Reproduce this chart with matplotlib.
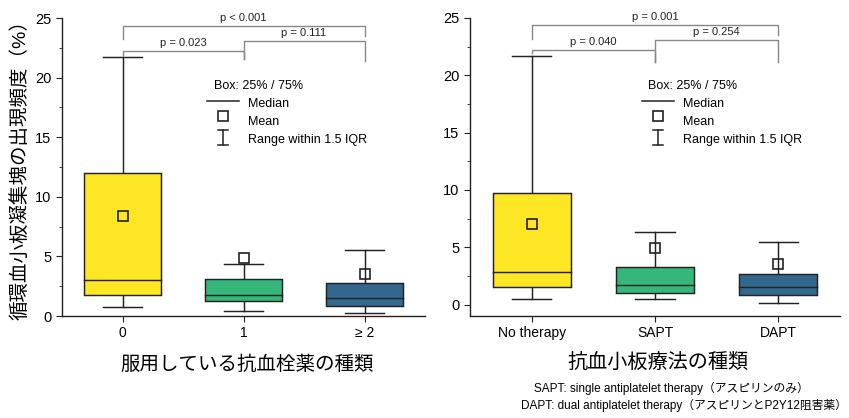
import matplotlib
matplotlib.use("Agg")
import matplotlib.pyplot as plt
from matplotlib.ticker import MultipleLocator

plt.rcParams['font.family'] = ['Liberation Sans', 'Noto Sans CJK JP', 'DejaVu Sans']

# ---- data ----
left_cats = ['0', '1', '≥ 2']
left_low = [0.75, 0.42, 0.22]
left_q1 = [1.72, 1.28, 0.85]
left_med = [3.0, 1.72, 1.53]
left_q3 = [12.0, 3.07, 2.75]
left_high = [21.7, 4.4, 5.55]
left_mean = [8.4, 4.9, 3.55]

right_cats = ['No therapy', 'SAPT', 'DAPT']
right_low = [0.5, 0.44, 0.17]
right_q1 = [1.54, 1.02, 0.82]
right_med = [2.8, 1.69, 1.54]
right_q3 = [9.7, 3.26, 2.68]
right_high = [21.7, 6.35, 5.42]
right_mean = [7.0, 4.95, 3.5]

colors = ['#FDE725', '#35B779', '#31688E']

# brackets: (i, j, top, left_drop, right_drop, label)
left_brackets = [(0, 2, 24.35, 23.2, 23.5, 'p < 0.001'),
                 (0, 1, 22.25, 21.9, 21.6, 'p = 0.023'),
                 (1, 2, 23.07, 21.6, 21.4, 'p = 0.111')]
right_brackets = [(0, 2, 24.36, 23.16, 23.5, 'p = 0.001'),
                  (0, 1, 22.23, 21.94, 21.15, 'p = 0.040'),
                  (1, 2, 23.08, 21.15, 21.2, 'p = 0.254')]

fig = plt.figure(figsize=(8.49, 4.18), dpi=100)
axL = fig.add_axes([62/849, 1-316/418, (425-62)/849, (316-18)/418])
axR = fig.add_axes([470/849, 1-316/418, (840-470)/849, (316-18)/418])

LW = 1.05
EC = '#222222'


def draw(ax, cats, low, q1, med, q3, high, mean, brackets, ylim, leg_x):
    bw = 0.63
    cw = 0.32
    for i in range(len(cats)):
        ax.plot([i, i], [low[i], q1[i]], color=EC, lw=LW, zorder=2)
        ax.plot([i, i], [q3[i], high[i]], color=EC, lw=LW, zorder=2)
        ax.plot([i - cw/2, i + cw/2], [low[i]]*2, color=EC, lw=LW, zorder=2)
        ax.plot([i - cw/2, i + cw/2], [high[i]]*2, color=EC, lw=LW, zorder=2)
        ax.bar(i, q3[i] - q1[i], bottom=q1[i], width=bw, color=colors[i],
               edgecolor=EC, linewidth=LW, zorder=3)
        ax.plot([i - bw/2, i + bw/2], [med[i]]*2, color=EC, lw=LW, zorder=4)
        ax.plot(i, mean[i], marker='s', ms=7.5, mfc='none', mec=EC, mew=1.2, zorder=5)
    for (a, b, top, ld, rd, lab) in brackets:
        ax.plot([a, a, b, b], [ld, top, top, rd], color='#888888', lw=1.0, zorder=1)
        ax.text((a + b)/2, top + 0.25, lab, ha='center', va='bottom', fontsize=8, color=EC)
    ax.set_xlim(-0.5, 2.5)
    ax.set_ylim(*ylim)
    ax.set_xticks(range(len(cats)))
    ax.set_xticklabels(cats, fontsize=10)
    ax.set_yticks([0, 5, 10, 15, 20, 25])
    ax.yaxis.set_minor_locator(MultipleLocator(2.5))
    ax.tick_params(axis='both', which='major', direction='out', length=4, color=EC)
    ax.tick_params(axis='y', which='major', labelsize=10.5)
    ax.tick_params(axis='y', which='minor', direction='out', length=2.5, color=EC)
    ax.spines['top'].set_visible(False)
    ax.spines['right'].set_visible(False)
    for s in ['left', 'bottom']:
        ax.spines[s].set_linewidth(1.0)
        ax.spines[s].set_color(EC)
    # legend block
    bx, lx0, lx1, tx, sx = leg_x
    tr = ax.transAxes
    fs = 9
    ax.text(bx, 0.772, 'Box: 25% / 75%', transform=tr, fontsize=fs, va='center', ha='left')
    ax.plot([lx0, lx1], [0.7225, 0.7225], transform=tr, color=EC, lw=1.1)
    ax.text(tx, 0.713, 'Median', transform=tr, fontsize=fs, va='center', ha='left')
    ax.plot([sx], [0.671], transform=tr, marker='s', ms=7.5, mfc='none', mec=EC, mew=1.2)
    ax.text(tx, 0.651, 'Mean', transform=tr, fontsize=fs, va='center', ha='left')
    ax.plot([sx, sx], [0.574, 0.624], transform=tr, color=EC, lw=1.1)
    ax.plot([sx - 0.014, sx + 0.014], [0.574, 0.574], transform=tr, color=EC, lw=1.1)
    ax.plot([sx - 0.014, sx + 0.014], [0.624, 0.624], transform=tr, color=EC, lw=1.1)
    ax.text(tx, 0.590, 'Range within 1.5 IQR', transform=tr, fontsize=fs, va='center', ha='left')


draw(axL, left_cats, left_low, left_q1, left_med, left_q3, left_high, left_mean,
     left_brackets, (0, 25), (0.419, 0.40, 0.488, 0.512, 0.444))
draw(axR, right_cats, right_low, right_q1, right_med, right_q3, right_high, right_mean,
     right_brackets, (-1.0, 25), (0.481, 0.465, 0.551, 0.576, 0.508))

fig.text(20/849, 1-165/418, '循環血小板凝集塊の出現頻度（%）', rotation=90,
         ha='center', va='center', fontsize=14)
fig.text(247/849, 1-365/418, '服用している抗血栓薬の種類', ha='center', va='center', fontsize=14)
fig.text(658/849, 1-363/418, '抗血小板療法の種類', ha='center', va='center', fontsize=14.5)
fig.text(671/849, 1-388/418, 'SAPT: single antiplatelet therapy（アスピリンのみ）',
         ha='center', va='center', fontsize=8.5)
fig.text(684/849, 1-405/418, 'DAPT: dual antiplatelet therapy（アスピリンとP2Y12阻害薬）',
         ha='center', va='center', fontsize=8.5)

fig.savefig('out.png', dpi=100)
